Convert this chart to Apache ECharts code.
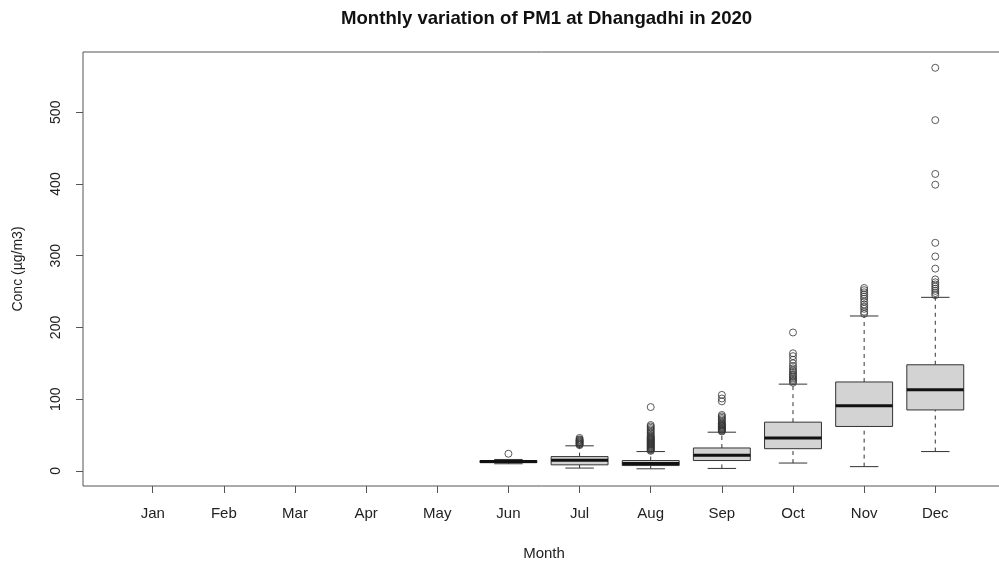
<!DOCTYPE html>
<html><head><meta charset="utf-8">
<script src="https://cdn.jsdelivr.net/npm/echarts@6/dist/echarts.min.js"></script>
<style>html,body{margin:0;padding:0;background:#fff}#c{width:999px;height:562px}</style>
</head><body><div id="c"></div>
<script>
const months = ['Jan','Feb','Mar','Apr','May','Jun','Jul','Aug','Sep','Oct','Nov','Dec'];
// five-number summaries (null = no data)
const lowWhisker  = [null,null,null,null,null, 10,   4,   3,   3.5, 11,  6,   27];
const q1          = [null,null,null,null,null, 11.5, 8.5, 7.5, 14.5, 31, 62,  85];
const median      = [null,null,null,null,null, 13,   15,  10.5, 22,  46,  91,  113];
const q3          = [null,null,null,null,null, 14.5, 20,  14.5, 32,  68,  124, 148];
const highWhisker = [null,null,null,null,null, 16,   35,  27,  54,  121, 216, 242];
// outliers per month
const outJun = [24];
const outJul = [36,37,38,39,40,41,42,43,44,46];
const outAug = [28,29,30,31,32,33,34,35,36,37,38,39,40,41,42,43,44,45,46,47,48,50,52,54,56,58,60,62,64,89];
const outSep = [55,56,57,58,59,60,61,62,63,64,65,66,68,70,72,74,76,78,97,101,106];
const outOct = [123,125,127,129,131,133,135,138,140,143,146,150,155,160,164,193];
const outNov = [219,222,226,229,232,236,240,243,246,249,252,255];
const outDec = [245,248,251,254,257,260,263,267,282,299,318,399,414,489,562];
const yTicks = [0,100,200,300,400,500];
const xTicks = months.map((m,i)=>i);

const outliersByMonth = {Jun:outJun, Jul:outJul, Aug:outAug, Sep:outSep, Oct:outOct, Nov:outNov, Dec:outDec};

const boxData = [];
months.forEach((m,i)=>{
  if (median[i] !== null) boxData.push([i, lowWhisker[i], q1[i], median[i], q3[i], highWhisker[i]]);
});
const outData = [];
Object.keys(outliersByMonth).forEach(m=>{
  const i = months.indexOf(m);
  outliersByMonth[m].forEach(v=>outData.push([i, v]));
});

const stroke = '#333';
function renderBox(params, api){
  const x = api.value(0);
  const lo = api.coord([x, api.value(1)]);
  const b1 = api.coord([x, api.value(2)]);
  const md = api.coord([x, api.value(3)]);
  const b3 = api.coord([x, api.value(4)]);
  const hi = api.coord([x, api.value(5)]);
  const w = api.size([0.8, 0])[0];
  const cx = lo[0];
  const hw = w/2, cw = w/4;
  const dash = {stroke: stroke, lineWidth: 1, lineDash: [4,4]};
  const solid = {stroke: stroke, lineWidth: 1};
  return {type:'group', children:[
    {type:'line', shape:{x1:cx,y1:lo[1],x2:cx,y2:b1[1]}, style:dash},
    {type:'line', shape:{x1:cx,y1:b3[1],x2:cx,y2:hi[1]}, style:dash},
    {type:'line', shape:{x1:cx-cw,y1:lo[1],x2:cx+cw,y2:lo[1]}, style:solid},
    {type:'line', shape:{x1:cx-cw,y1:hi[1],x2:cx+cw,y2:hi[1]}, style:solid},
    {type:'rect', shape:{x:cx-hw,y:b3[1],width:w,height:b1[1]-b3[1]}, style:{fill:'#D3D3D3', stroke:stroke, lineWidth:1}},
    {type:'line', shape:{x1:cx-hw,y1:md[1],x2:cx+hw,y2:md[1]}, style:{stroke:'#111', lineWidth:3}}
  ]};
}

const chart = echarts.init(document.getElementById('c'), null, {renderer:'canvas'});
const font = 'Liberation Sans, Arial, sans-serif';
chart.setOption({
  animation:false,
  backgroundColor:'#fff',
  title:{text:'Monthly variation of PM1 at Dhangadhi in 2020', left:336, top:4,
    textStyle:{fontFamily:font, fontSize:18.6, fontWeight:'bold', color:'#111'}},
  grid:{left:83, top:52, width:922, height:434, outerBoundsMode:'none', containLabel:false,
    show:true, borderColor:'#555', borderWidth:1, backgroundColor:'transparent'},
  xAxis:{type:'value', min:-0.98, max:11.98,
    name:'Month', nameLocation:'middle', nameGap:60,
    nameTextStyle:{fontFamily:font, fontSize:15, color:'#222'},
    axisLine:{show:false, onZero:false}, splitLine:{show:false},
    axisTick:{show:true, inside:false, customValues:xTicks, length:7, lineStyle:{color:'#555'}},
    axisLabel:{customValues:xTicks, formatter:v=>months[v], margin:20, fontFamily:font, fontSize:15, color:'#222'}},
  yAxis:{type:'value', min:-21, max:584,
    name:'Conc (µg/m3)', nameLocation:'middle', nameGap:58,
    nameTextStyle:{fontFamily:font, fontSize:14, color:'#222'},
    axisLine:{show:false, onZero:false}, splitLine:{show:false},
    axisTick:{show:true, inside:false, customValues:yTicks, length:7, lineStyle:{color:'#555'}},
    axisLabel:{customValues:yTicks, rotate:90, margin:20, fontFamily:font, fontSize:14, color:'#222'}},
  series:[
    {type:'custom', renderItem:renderBox, data:boxData, encode:{x:0, y:[1,2,3,4,5]}, z:2},
    {type:'scatter', data:outData, symbol:'circle', symbolSize:7,
      itemStyle:{color:'rgba(0,0,0,0)', borderColor:'#333', borderWidth:1}, z:3}
  ]
});
</script></body></html>
